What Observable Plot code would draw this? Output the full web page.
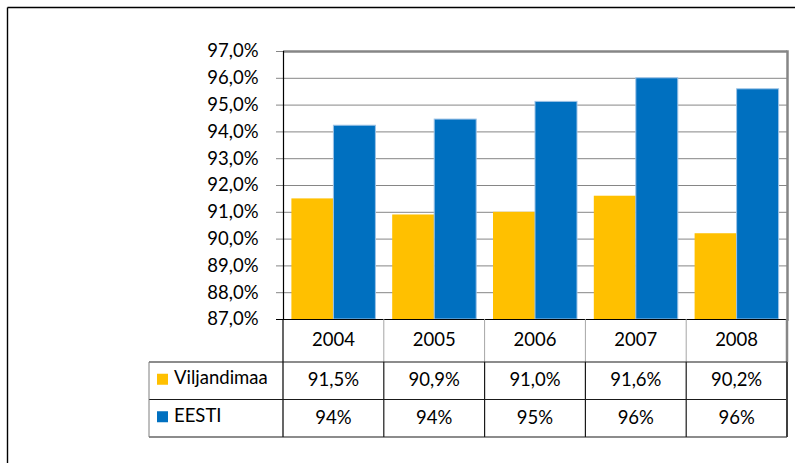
<!DOCTYPE html>
<html>
<head>
<meta charset="utf-8">
<script src="https://cdn.jsdelivr.net/npm/d3@7"></script>
<script src="https://cdn.jsdelivr.net/npm/@observablehq/plot@0.6"></script>
<style>
  html, body { margin: 0; padding: 0; background: #fff; }
  #wrap { position: relative; width: 795px; height: 463px; overflow: hidden; font-family: Lato, "DejaVu Sans", sans-serif; }
  #wrap > svg { position: absolute; left: 0; top: 0; }
</style>
</head>
<body>
<div id="wrap"></div>
<script>
// ---- data ----
const years = ["2004", "2005", "2006", "2007", "2008"];
const seriesNames = ["Viljandimaa", "EESTI"];
const viljandimaa = [91.5, 90.9, 91.0, 91.6, 90.2];
const eesti = [94.23, 94.46, 95.12, 96.0, 95.59];
const eestiLabels = ["94%", "94%", "95%", "96%", "96%"];
const yTicks = [87, 88, 89, 90, 91, 92, 93, 94, 95, 96, 97];
const seriesColors = ["#FFC000", "#0070C0"];

const yMin = 87, yMax = 97;
const fmtPct1 = d => d.toFixed(1).replace(".", ",") + "%";
const viljLabels = viljandimaa.map(fmtPct1);

const vData = years.map((year, i) => ({year, value: viljandimaa[i]}));
const eData = years.map((year, i) => ({year, value: eesti[i]}));

// ---- layout ----
const W = 795, H = 463;
const mLeft = 283, mRight = 8, mTop = 51, plotBottom = 319;
const plotH = 330;
const half = ((W - mLeft - mRight) / years.length) * (5 / 6) / 2;
const fontPx = 18.5;

const wrap = document.getElementById("wrap");

const chart = Plot.plot({
  width: W,
  height: plotH,
  marginLeft: mLeft,
  marginRight: mRight,
  marginTop: mTop,
  marginBottom: plotH - plotBottom,
  style: {fontFamily: "Lato, sans-serif", fontSize: fontPx + "px", color: "black", background: "transparent", overflow: "visible"},
  x: {domain: years, paddingInner: 1 / 6, paddingOuter: 1 / 12, round: false, axis: null},
  y: {domain: [yMin, yMax], axis: null},
  marks: [
    Plot.gridY(yTicks, {stroke: "#868686", strokeOpacity: 1, strokeWidth: 1}),
    Plot.axisY(yTicks, {label: null, tickSize: 7, tickPadding: 18, stroke: "#868686", fill: "black", tickFormat: fmtPct1, fontSize: fontPx}),
    Plot.barY(vData, {x: "year", y1: yMin, y2: "value", fill: seriesColors[0], insetRight: half}),
    Plot.barY(eData, {x: "year", y1: yMin, y2: "value", fill: seriesColors[1], stroke: "#9dc3e6", strokeWidth: 1, insetLeft: half}),
    Plot.ruleY([yMax], {stroke: "#868686", strokeWidth: 2.5}),
    Plot.frame({anchor: "right", stroke: "#868686", strokeWidth: 2.5}),
    Plot.frame({anchor: "left", stroke: "black", strokeWidth: 1.2}),
    Plot.ruleY([yMin], {stroke: "black", strokeWidth: 1.2}),
    Plot.axisY([yMin], {label: null, tickSize: 7, stroke: "black", tickFormat: () => ""})
  ]
});
wrap.appendChild(chart);

// ---- data table below the plot (uses the chart's x scale) ----
const xs = chart.scale("x");
const step = xs.step, bw = xs.bandwidth;
const colLeft = i => xs.apply(years[i]) - (step - bw) / 2;
const colCenter = i => xs.apply(years[i]) + bw / 2;
const tableRight = colLeft(years.length - 1) + step;
const legendLeft = 149;
const rowY = [plotBottom, 362, 399.5, 437];

const svg = d3.select(wrap).append("svg")
  .attr("width", W).attr("height", H)
  .style("pointer-events", "none")
  .style("font-family", "Lato, sans-serif")
  .style("font-size", fontPx + "px");

// outer border
svg.append("line").attr("x1", 7.5).attr("x2", W).attr("y1", 7.5).attr("y2", 7.5).attr("stroke", "#000").attr("stroke-width", 1.4);
svg.append("line").attr("x1", 7.5).attr("x2", 7.5).attr("y1", 7.5).attr("y2", H).attr("stroke", "#000").attr("stroke-width", 1.4);

// header row: gray dividers
for (let i = 1; i <= years.length; i++) {
  const x = i < years.length ? colLeft(i) : tableRight;
  svg.append("line").attr("x1", x).attr("x2", x).attr("y1", rowY[0]).attr("y2", rowY[1])
    .attr("stroke", i < years.length ? "#a6a6a6" : "#868686").attr("stroke-width", i < years.length ? 1 : 2.5);
}
// left axis continues down
svg.append("line").attr("x1", mLeft).attr("x2", mLeft).attr("y1", rowY[0]).attr("y2", rowY[3]).attr("stroke", "#000").attr("stroke-width", 1.2);
// data row horizontal lines
for (let r = 1; r <= 3; r++) {
  svg.append("line").attr("x1", legendLeft).attr("x2", tableRight).attr("y1", rowY[r]).attr("y2", rowY[r])
    .attr("stroke", "#1a1a1a").attr("stroke-width", 1.2);
}
// data row verticals
for (let i = 1; i <= years.length; i++) {
  const x = i < years.length ? colLeft(i) : tableRight;
  svg.append("line").attr("x1", x).attr("x2", x).attr("y1", rowY[1]).attr("y2", rowY[3])
    .attr("stroke", i < years.length ? "#1a1a1a" : "#404040").attr("stroke-width", i < years.length ? 1.2 : 2);
}
// legend cell left border
svg.append("line").attr("x1", legendLeft).attr("x2", legendLeft).attr("y1", rowY[1]).attr("y2", rowY[3]).attr("stroke", "#7f7f7f").attr("stroke-width", 1);

// header texts
years.forEach((y, i) => {
  svg.append("text").attr("x", colCenter(i)).attr("y", (rowY[0] + rowY[1]) / 2 + 1)
    .attr("text-anchor", "middle").attr("dominant-baseline", "middle").text(y);
});
const rowsText = [viljLabels, eestiLabels];
rowsText.forEach((labels, r) => {
  const cy = (rowY[r + 1] + rowY[r + 2]) / 2;
  labels.forEach((t, i) => {
    svg.append("text").attr("x", colCenter(i)).attr("y", cy + 1)
      .attr("text-anchor", "middle").attr("dominant-baseline", "middle").text(t);
  });
  svg.append("rect").attr("x", 157).attr("y", cy - 7).attr("width", 11).attr("height", 11).attr("fill", seriesColors[r]);
  svg.append("text").attr("x", 174).attr("y", cy - 1)
    .attr("dominant-baseline", "middle").text(seriesNames[r]);
});
</script>
</body>
</html>
